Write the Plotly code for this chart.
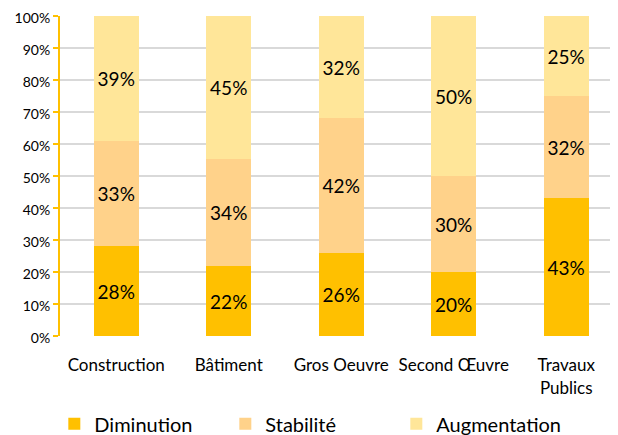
import plotly.graph_objects as go

categories = ["Construction", "Bâtiment", "Gros Oeuvre", "Second Œuvre", "Travaux<br>Publics"]
diminution = [28, 22, 26, 20, 43]
stabilite = [33, 34, 42, 30, 32]
augmentation = [39, 45, 32, 50, 25]

series = [
    ("Diminution", diminution, "#FFC000"),
    ("Stabilité", stabilite, "#FFD28A"),
    ("Augmentation", augmentation, "#FFE699"),
]

fig = go.Figure()
for name, vals, color in series:
    fig.add_trace(go.Bar(
        x=categories,
        y=vals,
        name=name,
        marker=dict(color=color, line=dict(width=0)),
        text=[f"{v}%" for v in vals],
        textposition="inside",
        insidetextanchor="middle",
        textangle=0,
        textfont=dict(size=19, color="black", family="Lato"),
    ))

# the page body adds an 8px offset, so margins are shifted to compensate
fig.update_layout(
    barmode="stack",
    barnorm="percent",
    bargap=0.6,
    width=618,
    height=435,
    margin=dict(l=52, r=14, t=8, b=107, autoexpand=False),
    paper_bgcolor="white",
    plot_bgcolor="white",
    font=dict(family="Lato", color="black", size=14),
    showlegend=True,
    legend=dict(
        orientation="h",
        xref="container", yref="container",
        x=0.49, xanchor="center",
        y=0.044, yanchor="middle",
        font=dict(size=20),
        traceorder="normal",
        entrywidth=126,
        itemwidth=30,
    ),
)

fig.update_xaxes(
    range=[-0.5, 4.407],
    showgrid=False,
    showline=False,
    ticks="outside",
    ticklen=14,
    tickcolor="rgba(0,0,0,0)",
    tickfont=dict(size=17),
    automargin=False,
)
fig.update_yaxes(
    range=[0, 100],
    dtick=10,
    ticksuffix="%",
    showgrid=True,
    gridcolor="#D9D9D9",
    gridwidth=1.5,
    showline=True,
    linecolor="#FFC000",
    linewidth=2,
    ticks="outside",
    tickcolor="#FFC000",
    ticklen=5,
    tickwidth=2,
    zeroline=False,
    tickfont=dict(size=14),
    ticklabeloverflow="allow",
    ticklabelshift=2,
    automargin=False,
)

fig.write_html("out.html")
